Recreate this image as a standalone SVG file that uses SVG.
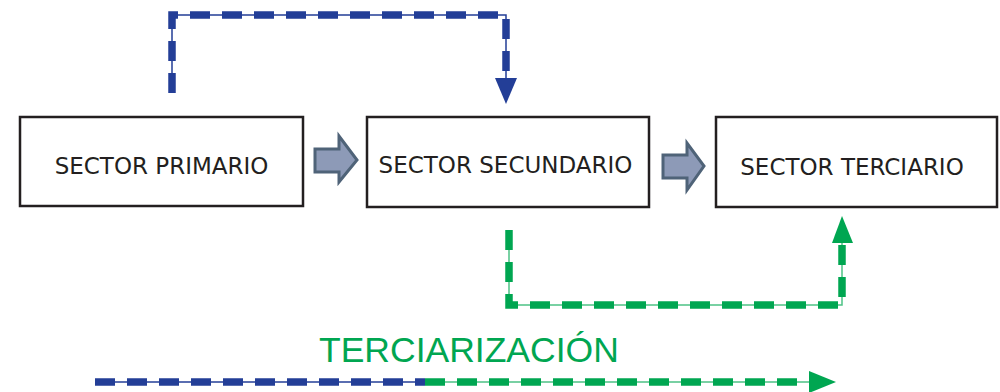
<svg xmlns="http://www.w3.org/2000/svg" width="1000" height="392" viewBox="0 0 1000 392">
<style>
.box{fill:#fff;stroke:#231f20;stroke-width:2.5}
.lbl{font-family:"DejaVu Sans",Verdana,sans-serif;font-size:23px;fill:#231f20;text-anchor:middle}
.blk{fill:#8d9ab7;stroke:#4f6378;stroke-width:3;stroke-linejoin:miter}
.bd{fill:none;stroke:#233e97;stroke-width:7.5;stroke-dasharray:20 12}
.bt{fill:none;stroke:#233e97;stroke-width:1.5}
.gd{fill:none;stroke:#00a651;stroke-width:7.5;stroke-dasharray:20 12}
.gt{fill:none;stroke:#00a651;stroke-width:1.5;opacity:0.7}
</style>
<rect width="1000" height="392" fill="#fff"/>
<g id="primario">
<rect class="box" x="20" y="117" width="283" height="89"/>
<text class="lbl" x="161.5" y="174">SECTOR PRIMARIO</text>
</g>
<g id="secundario">
<rect class="box" x="367" y="117" width="282" height="90"/>
<text class="lbl" x="505.5" y="173">SECTOR SECUNDARIO</text>
</g>
<g id="terciario">
<rect class="box" x="716" y="117" width="281" height="90"/>
<text class="lbl" x="852" y="175">SECTOR TERCIARIO</text>
</g>
<g id="connectors">
<polygon class="blk" points="315,149 339,149 339,136 357,160 339,182 339,172 315,172"/>
<polygon class="blk" points="663,155 687,155 687,143 704,166 687,190 687,178 663,178"/>
<path class="bt" d="M172,93 V15 H506 V80"/>
<path class="bd" d="M172,93 V15 H506 V80"/>
<polygon fill="#233e97" points="495,78 517,78 506,104"/>
<path class="gt" d="M509,230 V305 H842 V242"/>
<path class="gd" d="M509,230 V305 H842 V242"/>
<polygon fill="#00a651" points="832,243 853,243 842,216"/>
<path class="bt" d="M95,382 H425"/>
<path class="bd" d="M95,382 H425"/>
<path class="gt" d="M425,382 H812"/>
<path class="gd" d="M425,382 H812"/>
<polygon fill="#00a651" points="809,371 809,393 836,382"/>
</g>
<g id="terciarizacion">
<text x="319" y="362" font-family="'Liberation Sans',Arial,sans-serif" font-size="35.5" fill="#00a651">TERCIARIZACIÓN</text>
</g>
</svg>
